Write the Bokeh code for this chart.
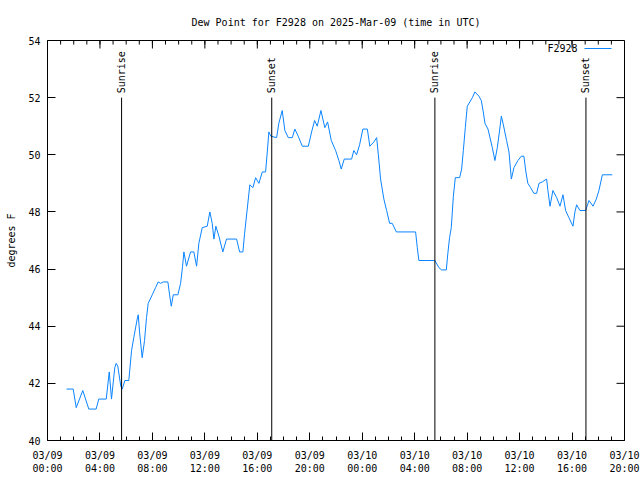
import math
from bokeh.plotting import figure
from bokeh.models import FixedTicker, LinearAxis, Label, BoxAnnotation, Range1d
from bokeh.embed import file_html
from bokeh.resources import INLINE
from bokeh.core.properties import value

# hours since 2025-03-09 00:00 UTC
hours = [1.45, 1.96, 2.19, 2.69, 3.15, 3.71, 3.91, 4.48, 4.71, 4.88, 5.13, 5.24, 5.36, 5.59, 5.70,
         5.90, 6.20, 6.41, 6.58, 6.84, 6.92, 7.02, 7.22, 7.40, 7.55, 7.68, 7.99, 8.24, 8.44, 8.62,
         8.83, 9.18, 9.31, 9.44, 9.59, 9.94, 10.15, 10.30, 10.40, 10.60, 10.91, 11.16, 11.37, 11.54,
         11.80, 12.18, 12.38, 12.56, 12.69, 12.84, 13.07, 13.37, 13.65, 14.42, 14.65, 14.90, 15.03,
         15.23, 15.43, 15.66, 15.87, 16.12, 16.38, 16.63, 16.76, 16.88, 17.03, 17.47, 17.64, 17.90,
         18.10, 18.36, 18.67, 18.86, 19.12, 19.43, 19.89, 20.14, 20.37, 20.57, 20.85, 21.15, 21.36,
         21.64, 21.97, 22.22, 22.40, 22.63, 23.19, 23.36, 23.57, 23.80, 24.05, 24.39, 24.58, 24.89,
         25.10, 25.23, 25.40, 25.65, 25.86, 26.09, 26.29, 26.60, 28.07, 28.20, 28.32, 29.54, 29.85,
         30.05, 30.41, 30.53, 30.66, 30.79, 30.95, 31.10, 31.43, 31.58, 31.71, 31.86, 32.01, 32.21,
         32.40, 32.59, 32.90, 33.08, 33.23, 33.36, 33.59, 33.92, 34.12, 34.30, 34.46, 34.61, 34.76,
         35.01, 35.19, 35.37, 35.57, 35.87, 36.13, 36.33, 36.48, 36.63, 36.84, 37.09, 37.30, 37.48,
         37.73, 38.06, 38.16, 38.32, 38.54, 38.83, 39.08, 39.31, 39.51, 39.76, 40.07, 40.22, 40.35,
         40.60, 41.04, 41.29, 41.60, 41.85, 42.05, 42.31, 43.07]
dewpoint = [41.8, 41.8, 41.15, 41.75, 41.1, 41.1, 41.45, 41.45, 42.4, 41.45, 42.55, 42.7, 42.6, 41.9, 41.8,
            42.1, 42.1, 43.15, 43.6, 44.25, 44.4, 43.8, 42.9, 43.5, 44.3, 44.8, 45.1, 45.35, 45.55, 45.5,
            45.55, 45.55, 45.1, 44.7, 45.1, 45.1, 45.5, 46.1, 46.6, 46.1, 46.6, 46.6, 46.1, 46.9,
            47.45, 47.5, 48.0, 47.6, 47.05, 47.5, 47.15, 46.6, 47.05, 47.05, 46.6, 46.6, 47.25,
            48.1, 48.95, 48.85, 49.2, 49.0, 49.4, 49.4, 50.1, 50.8, 50.65, 50.6, 51.1, 51.55,
            50.85, 50.6, 50.6, 50.9, 50.65, 50.3, 50.3, 50.8, 51.2, 51.0, 51.55, 50.95, 51.15,
            50.5, 50.15, 49.8, 49.5, 49.85, 49.85, 50.15, 50.0, 50.35, 50.9, 50.9, 50.3, 50.45,
            50.6, 50.0, 49.15, 48.45, 48.05, 47.6, 47.6, 47.3, 47.3, 46.75, 46.3, 46.3, 46.05,
            45.97, 45.97, 46.55, 47.1, 47.45, 48.55, 49.2, 49.2, 49.5, 50.15, 50.95, 51.7, 51.85,
            52.0, 52.2, 52.05, 51.9, 51.5, 51.1, 50.9, 50.25, 49.8, 50.25, 50.8, 51.35, 51.05,
            50.5, 50.1, 49.15, 49.55, 49.8, 49.95, 49.95, 49.4, 49.0, 48.85, 48.65, 48.65, 49.0,
            49.05, 49.15, 48.75, 48.2, 48.75, 48.5, 48.2, 48.6, 48.05, 47.8, 47.5, 48.0, 48.25,
            48.05, 48.05, 48.4, 48.2, 48.45, 48.75, 49.3, 49.3]

sun_hours = [5.65, 17.10, 29.54, 41.06]
sun_labels = ["Sunrise", "Sunset", "Sunrise", "Sunset"]

tick_hours = [0, 4, 8, 12, 16, 20, 24, 28, 32, 36, 40, 44]
tick_labels = ["03/09\n00:00", "03/09\n04:00", "03/09\n08:00", "03/09\n12:00", "03/09\n16:00",
               "03/09\n20:00", "03/10\n00:00", "03/10\n04:00", "03/10\n08:00", "03/10\n12:00",
               "03/10\n16:00", "03/10\n20:00"]
minor_hours = list(range(0, 45))
y_ticks = [40, 42, 44, 46, 48, 50, 52, 54]

title_text = "Dew Point for F2928 on 2025-Mar-09 (time in UTC)"
y_label = "degrees F"
series_name = "F2928"

FONT = "DejaVu Sans Mono"
FS = "10px"
LINE_COLOR = "#0a84ff"
X0, X1, Y0, Y1 = 0, 44, 40, 54
FRAME_W, FRAME_H = 577, 400
MAJ_PX, MIN_PX = 8, 4

p = figure(width=640, height=480, output_backend="svg", toolbar_location=None,
           x_range=Range1d(X0, X1), y_range=Range1d(Y0, Y1),
           min_border_left=47, min_border_right=16, min_border_top=40, min_border_bottom=40,
           x_axis_type=None, y_axis_type=None, title=title_text)
p.grid.visible = False
p.outline_line_color = "black"
p.outline_line_width = 1
p.background_fill_color = "white"
p.border_fill_color = "white"

p.title.align = "center"
p.title.text_font = FONT
p.title.text_font_size = FS
p.title.text_font_style = "normal"
p.title.text_color = "black"
p.title.standoff = 26

xax = LinearAxis(ticker=FixedTicker(ticks=tick_hours, minor_ticks=minor_hours))
xax.major_label_overrides = {h: l for h, l in zip(tick_hours, tick_labels)}
xax.major_tick_in = MAJ_PX
xax.major_tick_out = 0
xax.minor_tick_in = MIN_PX
xax.minor_tick_out = 0
xax.major_tick_line_color = "black"
xax.minor_tick_line_color = "black"
xax.axis_line_color = None
xax.major_label_text_font = FONT
xax.major_label_text_font_size = FS
xax.major_label_text_color = "black"
xax.major_label_standoff = 9
p.add_layout(xax, "below")

yax = LinearAxis(ticker=FixedTicker(ticks=y_ticks, minor_ticks=[]))
yax.major_tick_in = MAJ_PX
yax.major_tick_out = 0
yax.minor_tick_in = 0
yax.minor_tick_out = 0
yax.major_tick_line_color = "black"
yax.axis_line_color = None
yax.major_label_text_font = FONT
yax.major_label_text_font_size = FS
yax.major_label_text_color = "black"
yax.major_label_standoff = 7
yax.axis_label = y_label
yax.axis_label_text_font = FONT
yax.axis_label_text_font_size = FS
yax.axis_label_text_font_style = "normal"
yax.axis_label_text_color = "black"
yax.axis_label_standoff = 8
p.add_layout(yax, "left")

# mirrored ticks on the top and right edges (gnuplot style)
xu = (X1 - X0) / FRAME_W  # data units per pixel (x)
yu = (Y1 - Y0) / FRAME_H  # data units per pixel (y)
p.segment(x0=tick_hours, y0=[Y1] * len(tick_hours), x1=tick_hours,
          y1=[Y1 - MAJ_PX * yu] * len(tick_hours), line_color="black", line_width=1)
p.segment(x0=minor_hours, y0=[Y1] * len(minor_hours), x1=minor_hours,
          y1=[Y1 - MIN_PX * yu] * len(minor_hours), line_color="black", line_width=1)
p.segment(x0=[X1] * len(y_ticks), y0=y_ticks, x1=[X1 - MAJ_PX * xu] * len(y_ticks),
          y1=y_ticks, line_color="black", line_width=1)

# data line
p.line(hours, dewpoint, line_color=LINE_COLOR, line_width=1)

# sunrise / sunset markers
p.segment(x0=sun_hours, y0=[Y0] * len(sun_hours), x1=sun_hours, y1=[52.0] * len(sun_hours),
          line_color="black", line_width=1)
p.text(x=sun_hours, y=[52.15] * len(sun_hours), text=sun_labels, angle=math.pi / 2,
       text_align="left", text_baseline="middle", text_font=value(FONT),
       text_font_size=FS, text_color="black")

# key (label, then line sample) at the top right, gnuplot style
p.add_layout(Label(x=530, y=392, x_units="screen", y_units="screen", text=series_name,
                   text_align="right", text_baseline="middle", text_font=FONT,
                   text_font_size=FS, text_color="black"))
p.add_layout(BoxAnnotation(left=537, right=564, bottom=391.5, top=392.5,
                           left_units="screen", right_units="screen",
                           bottom_units="screen", top_units="screen",
                           fill_color=LINE_COLOR, fill_alpha=1.0, line_color=None))

open("out.html", "w").write(file_html(p, INLINE))
